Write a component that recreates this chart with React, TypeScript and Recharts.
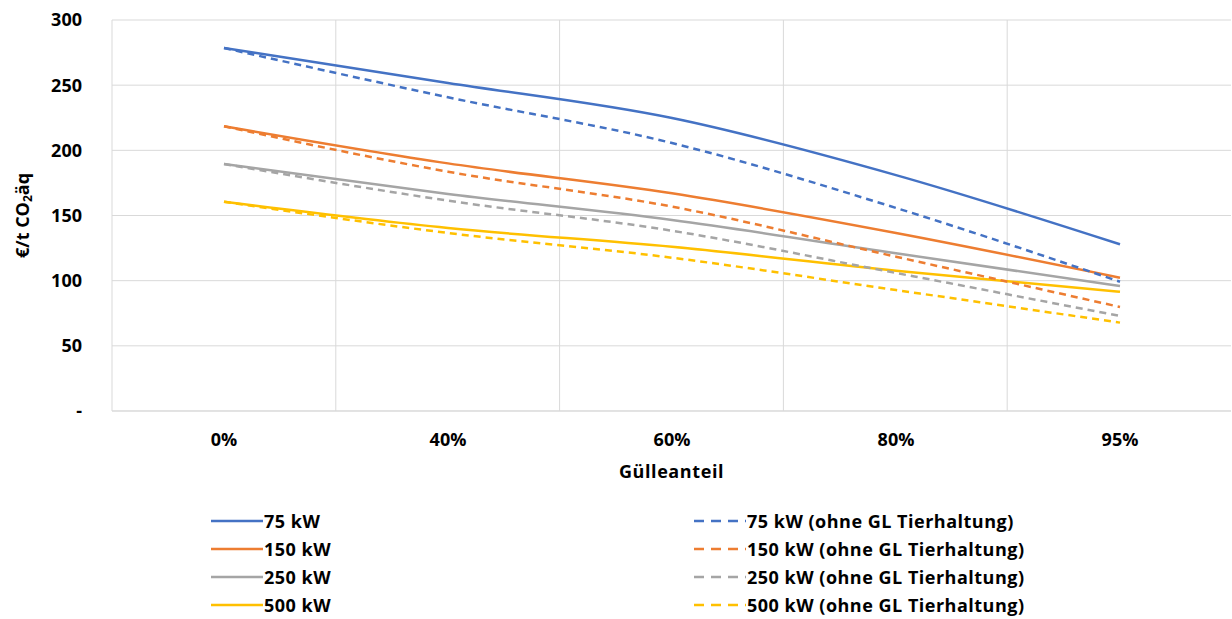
import React from 'react'
import { LineChart, Line, XAxis, YAxis, CartesianGrid } from 'recharts'

const categories = ['0%', '40%', '60%', '80%', '95%']

// Kosten je Anlagengröße, mit / ohne GL Tierhaltung
const kw75 = [278.5, 251.7, 224.8, 181, 127.9]
const kw150 = [218.5, 190, 167, 136.6, 102.3]
const kw250 = [189.5, 166.5, 146.5, 121, 95.9]
const kw500 = [160.5, 140.4, 126, 107.6, 91.5]
const kw75o = [278.5, 240.7, 205.6, 155.8, 99.2]
const kw150o = [218.5, 183.6, 156.8, 118.4, 79.8]
const kw250o = [189.5, 161.4, 138.3, 105.9, 72.9]
const kw500o = [160.5, 136.6, 117.6, 92.8, 67.8]

const yTicks = [0, 50, 100, 150, 200, 250, 300]

const series = [
  { key: 's75', name: '75 kW', color: '#4472C4', values: kw75, dashed: false },
  { key: 's150', name: '150 kW', color: '#ED7D31', values: kw150, dashed: false },
  { key: 's250', name: '250 kW', color: '#A5A5A5', values: kw250, dashed: false },
  { key: 's500', name: '500 kW', color: '#FFC000', values: kw500, dashed: false },
  { key: 'o75', name: '75 kW (ohne GL Tierhaltung)', color: '#4472C4', values: kw75o, dashed: true },
  { key: 'o150', name: '150 kW (ohne GL Tierhaltung)', color: '#ED7D31', values: kw150o, dashed: true },
  { key: 'o250', name: '250 kW (ohne GL Tierhaltung)', color: '#A5A5A5', values: kw250o, dashed: true },
  { key: 'o500', name: '500 kW (ohne GL Tierhaltung)', color: '#FFC000', values: kw500o, dashed: true },
]

const data = categories.map((c, i) => {
  const row: any = { cat: c }
  series.forEach(s => { row[s.key] = s.values[i] })
  return row
})

const FONT = '"Open Sans", Lato, sans-serif'
const DASH = '7 5'

function LegendItem({ s }: { s: any }) {
  return (
    <div style={{ display: 'flex', alignItems: 'center', height: 28 }}>
      <svg width={52} height={6} style={{ marginRight: 1 }}>
        <line x1={0} y1={3} x2={52} y2={3} stroke={s.color} strokeWidth={2.5}
          strokeDasharray={s.dashed ? '10 7' : undefined} />
      </svg>
      <span>{s.name}</span>
    </div>
  )
}

export default function App() {
  const solid = series.filter(s => !s.dashed)
  const dashed = series.filter(s => s.dashed)
  const legendStyle: any = {
    position: 'absolute', top: 507, fontSize: 18, fontWeight: 700, color: '#000', letterSpacing: 0.5,
  }
  return (
    <div style={{ position: 'relative', width: 1232, height: 619, fontFamily: FONT, background: '#fff' }}>
      <style>{'body{margin:0}'}</style>
      <LineChart width={1232} height={500} data={data} margin={{ top: 20, right: 1, left: 0, bottom: 0 }}>
        <CartesianGrid stroke="#d9d9d9" strokeWidth={1}
          verticalCoordinatesGenerator={({ offset }: any) =>
            [1, 2, 3, 4].map(i => offset.left + (offset.width * i) / categories.length)} />
        <XAxis dataKey="cat" height={89} tickLine={false} tickSize={0} tickMargin={22}
          padding={{ left: 112, right: 111 }}
          axisLine={{ stroke: '#d9d9d9' }}
          tick={{ fill: '#000', fontSize: 18, fontWeight: 700, fontFamily: FONT }}
          label={{
            content: ({ viewBox }: any) => (
              <text x={viewBox.x + viewBox.width / 2} y={viewBox.y + 67} textAnchor="middle"
                fontSize={18} fontWeight={700} fill="#000" fontFamily={FONT} letterSpacing={0.6}>Gülleanteil</text>
            ),
          }} />
        <YAxis width={112} domain={[0, 300]} ticks={yTicks} interval={0} tickLine={false} tickSize={0}
          tickMargin={30} axisLine={{ stroke: '#d9d9d9' }}
          tickFormatter={(v: number) => (v === 0 ? '-' : String(v))}
          tick={{ fill: '#000', fontSize: 18, fontWeight: 700, fontFamily: FONT }}
          label={{
            content: ({ viewBox }: any) => {
              const cx = 22
              const cy = viewBox.y + viewBox.height / 2
              return (
                <text x={cx} y={cy} transform={`rotate(-90 ${cx} ${cy})`} textAnchor="middle"
                  dominantBaseline="central" fontSize={18} fontWeight={700} fill="#000" fontFamily={FONT}>
                  €/t CO<tspan fontSize={12} dy={5}>2</tspan><tspan dy={-5}>äq</tspan>
                </text>
              )
            },
          }} />
        {series.map(s => (
          <Line key={s.key} dataKey={s.key} name={s.name} type="monotone" stroke={s.color}
            strokeWidth={2.5} strokeDasharray={s.dashed ? DASH : undefined}
            dot={false} activeDot={false} isAnimationActive={false} />
        ))}
      </LineChart>
      <div style={{ ...legendStyle, left: 211 }}>
        {solid.map(s => <LegendItem key={s.key} s={s} />)}
      </div>
      <div style={{ ...legendStyle, left: 694 }}>
        {dashed.map(s => <LegendItem key={s.key} s={s} />)}
      </div>
    </div>
  )
}
